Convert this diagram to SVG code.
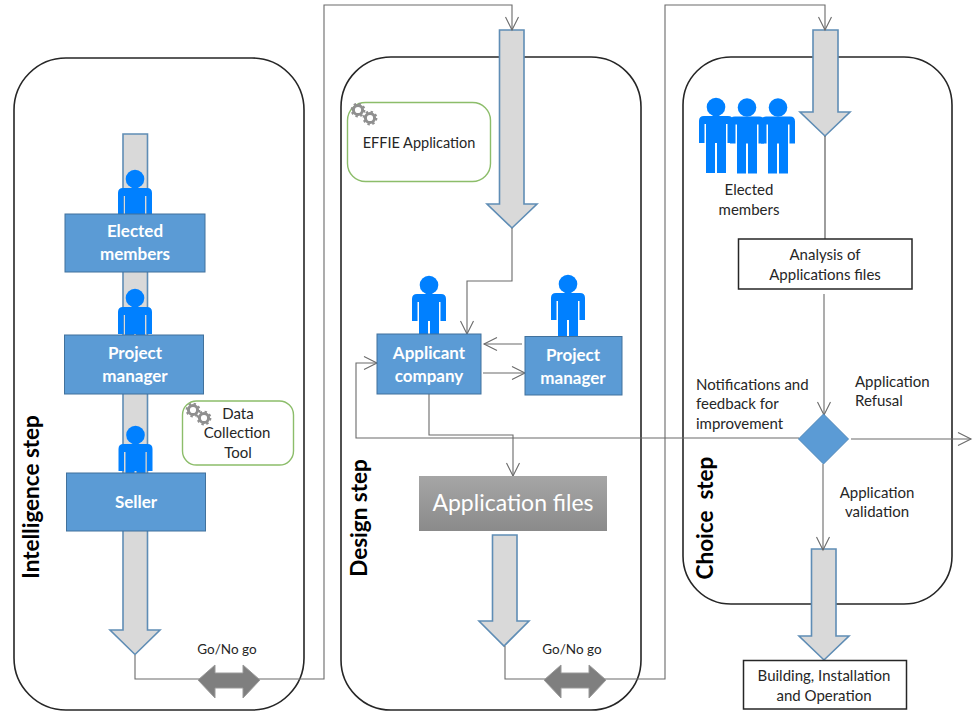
<svg xmlns="http://www.w3.org/2000/svg" width="975" height="711" viewBox="0 0 975 711">
<style>
text{font-family:Lato,"Liberation Sans",sans-serif;fill:#262626;font-size:15px;text-anchor:middle}
.panel{fill:none;stroke:#262626;stroke-width:1.6}
.box{fill:#5b9bd5;stroke:#41719c;stroke-width:1}
.bt{fill:#fff;font-weight:700;font-size:17px}
.big{fill:#d9d9d9;stroke:#5f8db5;stroke-width:1.6}
.dbl{fill:#7f7f7f;stroke:#9a9a9a;stroke-width:1}
.tool{fill:#fff;stroke:#8cbd6a;stroke-width:1.4}
.wb{fill:#fff;stroke:#262626;stroke-width:1.5}
.c{fill:none;stroke:#6a6a6a;stroke-width:1.1;marker-end:url(#open)}
.n{fill:none;stroke:#4d4d4d;stroke-width:1.1}
.step{fill:#000;font-weight:700;font-size:22.500px}
.go{font-size:13.500px}
.l{text-anchor:start}
</style>
<defs>
<marker id="open" markerUnits="userSpaceOnUse" markerWidth="16" markerHeight="16" refX="14" refY="8" orient="auto"><path d="M1,1.500 L14,8 L1,14.500" fill="none" stroke="#6a6a6a" stroke-width="1.1"/></marker>
<g id="person" fill="#0080ff"><circle r="9.300"/><path d="M-12,9 H12 Q17,9 17,14 V36 H11.500 V17 H10 V66 H1 V36 H-1 V66 H-10 V17 H-11.500 V36 H-17 V14 Q-17,9 -12,9Z"/></g>
<g id="gear"><circle r="4.600" fill="none" stroke="#8f8f8f" stroke-width="3"/><circle r="6.400" fill="none" stroke="#8f8f8f" stroke-width="2" stroke-dasharray="2.400 2.600"/></g>
<linearGradient id="af" x1="0" y1="0" x2="0" y2="1"><stop offset="0" stop-color="#a6a6a6"/><stop offset="1" stop-color="#8a8a8a"/></linearGradient>
</defs>

<g id="panels">
<rect class="panel" x="14" y="58" width="290" height="652" rx="52"/>
<rect class="panel" x="341" y="57" width="300" height="653" rx="50"/>
<rect class="panel" x="683" y="57" width="269" height="547" rx="48"/>
</g>

<g id="flow-arrows">
<path class="big" d="M123,134 H147.500 V630 H160 L135,654.500 L110,630 H123Z"/>
<path class="big" d="M499.500,30 H524 V204 H537 L512,228 L487,204 H499.500Z"/>
<path class="big" d="M813,30 H838 V112 H850 L825,136 L800,112 H813Z"/>
<path class="big" d="M811.500,549 H836 V636 H849 L824,660 L799,636 H811.500Z"/>
<path class="big" d="M492.500,535 H517 V621 H529 L504,646 L479,621 H492.500Z"/>
</g>

<g id="connectors">
<path class="c" d="M135,655 V679 H324 V5 H512 V30"/>
<path class="c" d="M505,646 V679 H665 V5 H825 V30"/>
<path class="c" d="M512,228 V281 H467 V334"/>
<path class="c" d="M522,344 H484"/>
<path class="c" d="M483,373 H525"/>
<path class="c" d="M429,394 V435 H513 V476"/>
<path class="c" d="M799,438 H356 V363 H377"/>
<path class="n" d="M825,136 V239"/>
<path class="c" d="M824,294 V415"/>
<path class="c" d="M851,439 H971"/>
<path class="c" d="M823,464 V550"/>
</g>

<g id="intelligence-step">
<text class="step" transform="translate(39,497) rotate(-90)">Intelligence step</text>
</g>
<g id="elected-members-1">
<use href="#person" x="135" y="179"/>
<rect class="box" x="65" y="214" width="140" height="58"/>
<text class="bt" x="135" y="237">Elected</text><text class="bt" x="135" y="260">members</text>
</g>
<g id="project-manager-1">
<use href="#person" x="135" y="298"/>
<rect class="box" x="64.500" y="335" width="139" height="59"/>
<text class="bt" x="135" y="359">Project</text><text class="bt" x="135" y="382">manager</text>
</g>
<g id="seller">
<use href="#person" x="135.500" y="435"/>
<rect class="box" x="66.500" y="473" width="139" height="58"/>
<text class="bt" x="136" y="508">Seller</text>
</g>
<g id="data-collection-tool">
<rect class="tool" x="182.500" y="401" width="111" height="64" rx="14"/>
<use href="#gear" x="193" y="410"/><use href="#gear" x="204" y="418"/>
<text x="238" y="419">Data</text><text x="237" y="438">Collection</text><text x="238" y="458">Tool</text>
</g>
<g id="go-no-go-1">
<path class="dbl" d="M198,680 L215,665 V673 H243 V665 L260,680 L243,698 V688 H215 V698Z"/>
<text class="go" x="227" y="654">Go/No go</text>
</g>

<g id="design-step">
<text class="step" transform="translate(367,518) rotate(-90)">Design step</text>
</g>
<g id="effie-application">
<rect class="tool" x="347.500" y="102.500" width="143" height="79" rx="18"/>
<use href="#gear" x="358" y="110"/><use href="#gear" x="370" y="118"/>
<text x="419" y="148" style="font-size:14.500px">EFFIE Application</text>
</g>
<g id="applicant-company">
<use href="#person" x="429" y="285"/>
<rect class="box" x="377" y="334" width="104" height="60"/>
<text class="bt" x="429" y="359">Applicant</text><text class="bt" x="429" y="382">company</text>
</g>
<g id="project-manager-2">
<use href="#person" x="568" y="284"/>
<rect class="box" x="525" y="336.500" width="97" height="58.500"/>
<text class="bt" x="573" y="361">Project</text><text class="bt" x="573" y="384">manager</text>
</g>
<g id="application-files">
<rect x="419" y="476" width="188" height="55" fill="url(#af)"/>
<text x="513" y="511" style="fill:#fff;font-size:23px">Application files</text>
</g>
<g id="go-no-go-2">
<path class="dbl" d="M544,680 L561,665 V673 H589 V665 L606,680 L589,698 V688 H561 V698Z"/>
<text class="go" x="572" y="654">Go/No go</text>
</g>

<g id="choice-step">
<text class="step" xml:space="preserve" transform="translate(713,518) rotate(-90)">Choice  step</text>
</g>
<g id="elected-members-2">
<use href="#person" x="716" y="107"/><use href="#person" x="747" y="107.500"/><use href="#person" x="778" y="107.500"/>
<text x="749" y="195">Elected</text><text x="749" y="215">members</text>
</g>
<g id="analysis">
<rect class="wb" x="738.500" y="239" width="173.500" height="50"/>
<text x="825" y="260">Analysis of</text><text x="825" y="280">Applications files</text>
</g>
<g id="decision">
<path d="M823.500,414 L848.500,439 L823.500,464 L798.500,439Z" fill="#5b9bd5" stroke="#4d86b8"/>
<text class="l" x="696" y="390">Notifications and</text>
<text class="l" x="696" y="409">feedback for</text>
<text class="l" x="696" y="429">improvement</text>
<text class="l" x="855" y="387">Application</text>
<text class="l" x="855" y="406">Refusal</text>
<text x="877" y="498">Application</text>
<text x="877" y="517">validation</text>
</g>
<g id="building">
<rect class="wb" x="743.500" y="660.500" width="163" height="48.500"/>
<text x="824" y="681">Building, Installation</text><text x="824" y="701">and Operation</text>
</g>
</svg>
